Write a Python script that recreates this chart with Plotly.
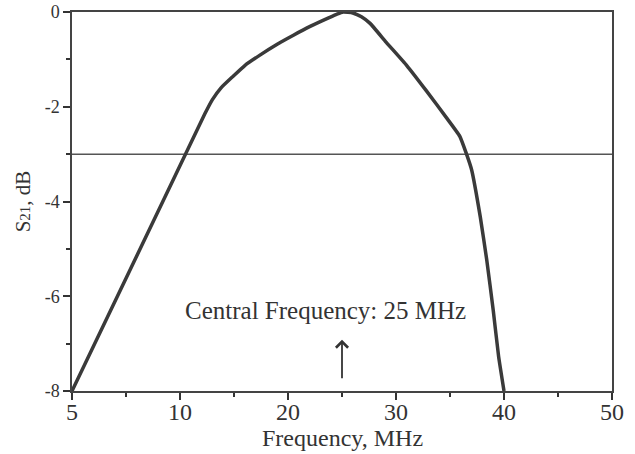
import plotly.graph_objects as go

# Axis positions (linear scale, first tick labelled "5" as in the source figure)
freq = [0.0, 12.3, 13.0, 13.8, 14.9, 16.0, 17.4, 19.0, 20.5, 22.0, 23.5, 24.5, 25.1,
        26.0, 26.8, 27.6, 29.1, 31.0, 32.8, 34.7, 35.9, 36.5, 37.0, 37.8, 38.4, 39.0, 39.5, 40.0]
s21 = [-8.0, -2.15, -1.85, -1.6, -1.36, -1.13, -0.91, -0.68, -0.49, -0.31, -0.15, -0.05, 0.0,
       -0.02, -0.1, -0.24, -0.64, -1.13, -1.66, -2.24, -2.62, -2.98, -3.33, -4.32, -5.23, -6.29, -7.27, -8.0]

x_tickvals = [0, 10, 20, 30, 40, 50]
x_ticktext = ["5", "10", "20", "30", "40", "50"]
x_minor = [5, 15, 25, 35, 45]
y_tickvals = [0, -2, -4, -6, -8]
y_ticktext = ["0", "-2", "-4", "-6", "-8"]
y_minor = [-1, -3, -5, -7]
ref_level = -3
center_freq = 25
x_range = [0, 50]
y_range = [-8, 0]

FONT = "Liberation Serif"
INK = "#333333"

fig = go.Figure()
fig.add_trace(go.Scatter(x=x_range, y=[ref_level, ref_level], mode="lines",
                         line=dict(color="#555555", width=1.5), hoverinfo="skip", showlegend=False))
fig.add_trace(go.Scatter(x=freq, y=s21, mode="lines",
                         line=dict(color="#3a3a3a", width=3.5, shape="spline", smoothing=0.4),
                         showlegend=False))

fig.add_annotation(x=23.5, y=-6.31, xref="x", yref="y", text="Central Frequency: 25 MHz",
                   showarrow=False, font=dict(family=FONT, size=25, color=INK),
                   xanchor="center", yanchor="middle")
fig.add_annotation(x=center_freq, y=-6.92, ax=center_freq, ay=-7.76, xref="x", yref="y",
                   axref="x", ayref="y", text="", showarrow=True, arrowhead=4,
                   arrowsize=1.3, arrowwidth=1.8, arrowcolor=INK)
# x-axis title placed below tick labels
fig.add_annotation(x=0.5, y=0, xref="paper", yref="paper", yshift=-62,
                   text="Frequency, MHz", showarrow=False,
                   font=dict(family=FONT, size=24, color=INK),
                   xanchor="center", yanchor="bottom")

fig.update_layout(
    width=635, height=454,
    margin=dict(l=72, r=23, t=12, b=63),
    paper_bgcolor="white", plot_bgcolor="white",
    font=dict(family=FONT, color=INK),
)
fig.update_xaxes(range=x_range, tickvals=x_tickvals, ticktext=x_ticktext, automargin=False,
                 ticks="outside", ticklen=7, tickwidth=1.5, tickcolor=INK, ticklabelstandoff=-9,
                 minor=dict(tickvals=x_minor, ticks="outside", ticklen=4, tickwidth=1.5, tickcolor=INK),
                 showline=True, linecolor="#444444", linewidth=1.5, mirror=True,
                 showgrid=False, zeroline=False,
                 tickfont=dict(family=FONT, size=24, color=INK))
fig.update_yaxes(range=y_range, tickvals=y_tickvals, ticktext=y_ticktext, automargin=False,
                 ticks="outside", ticklen=7, tickwidth=1.5, tickcolor=INK,
                 minor=dict(tickvals=y_minor, ticks="outside", ticklen=4, tickwidth=1.5, tickcolor=INK),
                 showline=True, linecolor="#444444", linewidth=1.5, mirror=True,
                 showgrid=False, zeroline=False,
                 tickfont=dict(family=FONT, size=18, color=INK),
                 title=dict(text="S<span style='font-size:15px'>21</span>, dB",
                            font=dict(family=FONT, size=21, color=INK), standoff=8))

fig.write_html("out.html", post_script="document.body.style.margin='0';",
               config={"displayModeBar": False})
